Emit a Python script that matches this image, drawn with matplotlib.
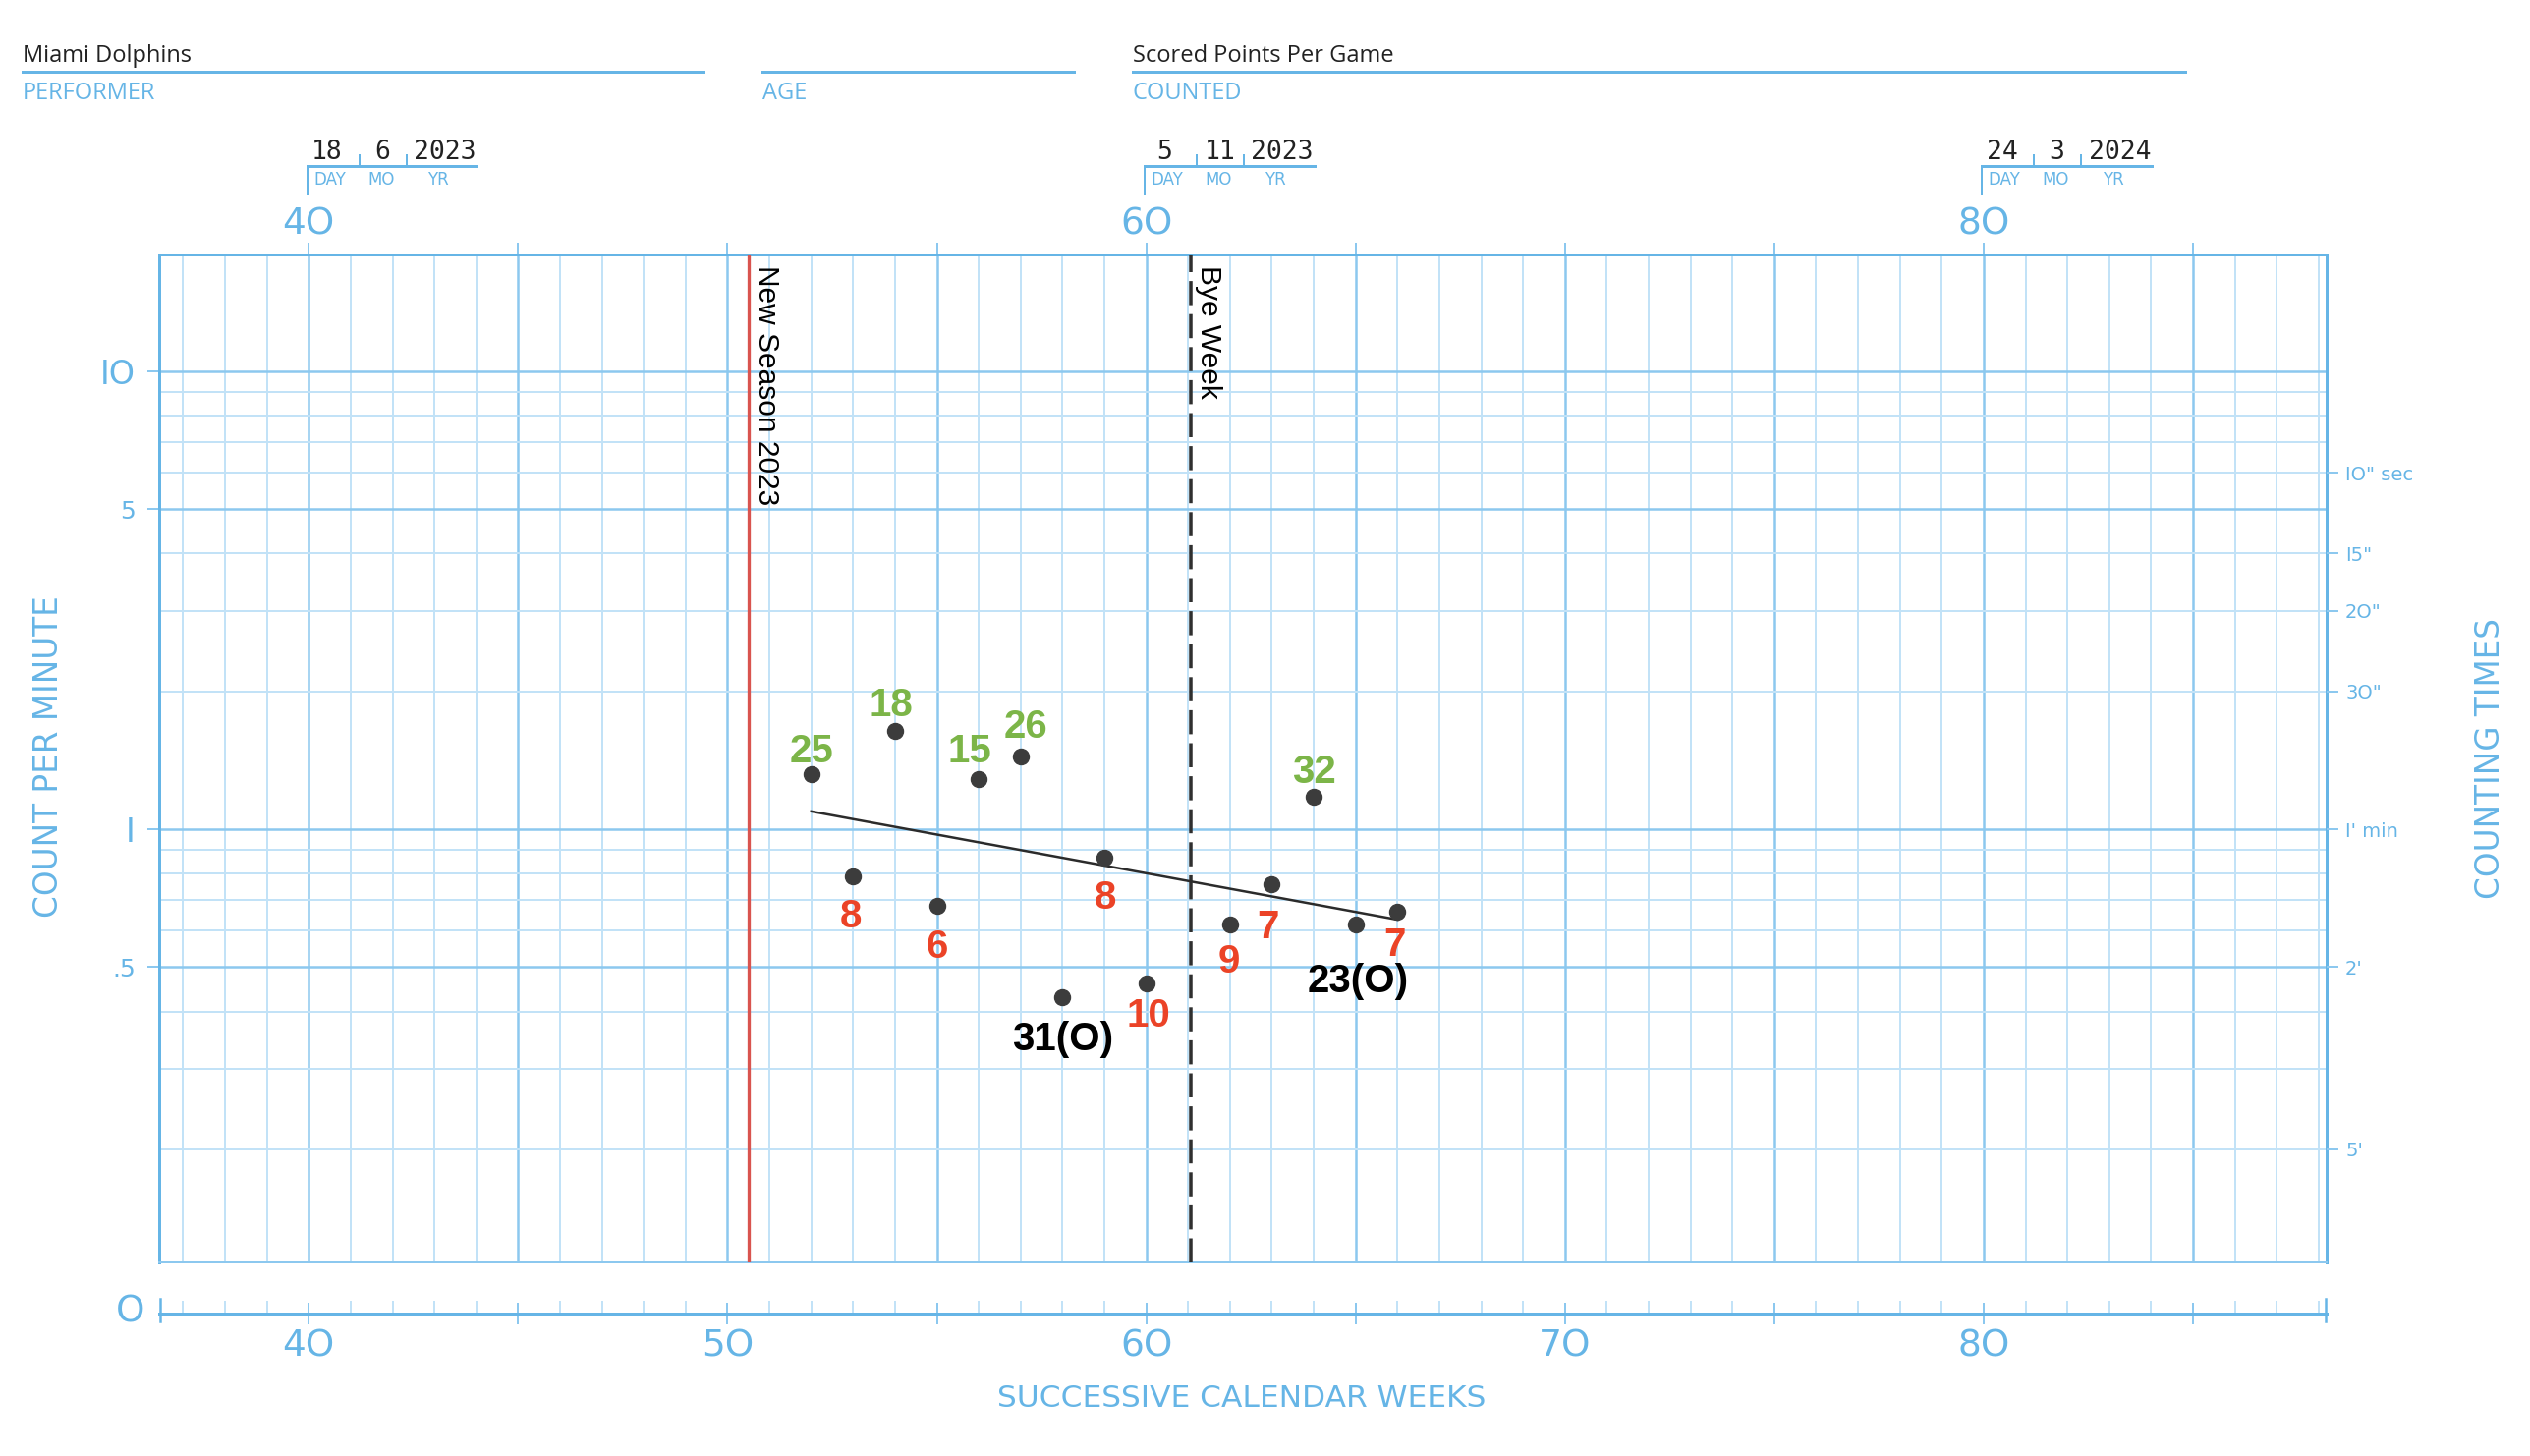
import numpy as np
import matplotlib
matplotlib.use("Agg")
import matplotlib.pyplot as plt
from matplotlib.ticker import MultipleLocator, FuncFormatter, NullLocator, LogLocator
from matplotlib.lines import Line2D
from matplotlib.transforms import IdentityTransform

W, H, DPI = 2575, 1482, 100

# --- data ---
weeks = [52, 53, 54, 55, 56, 57, 58, 59, 60, 62, 63, 64, 65, 66]
rates = [1.32, 0.79, 1.64, 0.68, 1.29, 1.44, 0.43, 0.865, 0.46, 0.62, 0.76, 1.18, 0.62, 0.66]
point_labels = ["25", "8", "18", "6", "15", "26", "31(O)", "8", "10", "9", "7", "32", "23(O)", "7"]
label_groups = ["up", "down", "up", "down", "up", "up", "opp", "down", "down", "down", "down", "up", "opp", "down"]

season_start = 50.5
bye_week = 61.07
date_weeks = [40, 60, 80]
dates = [("18", "6", "2023"), ("5", "11", "2023"), ("24", "3", "2024")]
x_range = (36.42, 88.19)
y_range = (0.1132, 17.95)
left_ticks = [10, 5, 1, 0.5]
left_tick_labels = ["IO", "5", "I", ".5"]
right_ticks = [6, 4, 3, 2, 1, 0.5, 0.2]
right_tick_labels = ['IO" sec', 'I5"', '2O"', '3O"', "I' min", "2'", "5'"]

# label placement (pixels, label centre relative to point)
label_shift = [(0, -26), (-2, 38), (-4, -29), (0, 38), (-9, -31), (5, -34), (0, 40),
               (1, 37), (2, 29), (-1, 35), (-4, 41), (0, -28), (2, 55), (-3, 30)]

BLUE = "#66b5e6"
MID = "#8cc8ef"
LIGHT = "#c2e2f7"
group_colors = {"up": "#7cb548", "down": "#eb4327", "opp": "#000000"}


def P(px):
    return px * 72.0 / DPI


def fx(x):
    return x / W


def fy(y):
    return 1 - y / H


fig = plt.figure(figsize=(W / DPI, H / DPI), dpi=DPI)
fig.patch.set_facecolor("white")

L, R, T, B = 161.7, 2368, 259.6, 1285
ax = fig.add_axes([fx(L), fy(B), (R - L) / W, (B - T) / H])
ax.set_yscale("log")
ax.set_xlim(x_range)
ax.set_ylim(y_range)

# grid
ax.xaxis.set_major_locator(MultipleLocator(5))
ax.xaxis.set_minor_locator(MultipleLocator(1))
ax.set_yticks(left_ticks, left_tick_labels)
ax.yaxis.set_minor_locator(LogLocator(base=10, subs=range(2, 10)))
ax.grid(which="minor", color=LIGHT, lw=P(2))
ax.grid(which="major", color=MID, lw=P(2.5))
ax.set_axisbelow(True)

ax.tick_params(axis="x", which="both", bottom=False, labelbottom=False)
ax.tick_params(axis="x", which="minor", top=False)
ax.tick_params(axis="x", which="major", top=True, labeltop=True, direction="out",
               length=P(13), width=P(2), color=MID, pad=0, labelsize=27, labelcolor=BLUE)
ax.xaxis.set_major_formatter(FuncFormatter(lambda v, p: f"{int(round(v)) // 10}O" if int(round(v)) % 20 == 0 else ""))

ax.tick_params(axis="y", which="minor", left=False, right=False, length=0)
ax.tick_params(axis="y", which="major", left=True, right=False, direction="out",
               length=P(12), width=P(2), color=MID, pad=P(12), labelcolor=BLUE)
for lbl, s in zip(ax.get_yticklabels(), [24, 18, 24, 18]):
    lbl.set_fontsize(s)

for side, lw in [("left", 3), ("right", 3), ("top", 2), ("bottom", 2)]:
    ax.spines[side].set_color(BLUE if side != "bottom" else MID)
    ax.spines[side].set_linewidth(P(lw))

# right axis: counting times
ax2 = ax.twinx()
ax2.set_yscale("log")
ax2.set_ylim(y_range)
ax2.set_yticks(right_ticks, right_tick_labels)
ax2.yaxis.set_minor_locator(NullLocator())
ax2.tick_params(axis="y", which="minor", left=False, right=False, length=0)
ax2.tick_params(axis="y", which="major", direction="out", length=P(12), width=P(2),
                color=MID, pad=P(7), labelsize=14, labelcolor=BLUE)
for s in ax2.spines.values():
    s.set_visible(False)

# phase lines
ax.axvline(season_start, color="#d9544f", lw=P(3.3), zorder=3)
ax.axvline(bye_week, color="#2f2f2f", lw=P(3.5), ls=(0, (7, 2.6)), zorder=3)
for xline, txt in [(season_start, "New Season 2023"), (bye_week, "Bye Week")]:
    ax.annotate(txt, xy=(xline, 1), xycoords=("data", "axes fraction"),
                xytext=(P(4), -P(10)), textcoords="offset points", rotation=-90,
                ha="left", va="top", fontsize=21.5, family="Liberation Sans", color="black")

# data + celeration line
ax.plot(weeks, rates, "o", ms=P(16), color="#3c3c3c", zorder=6)
coef = np.polyfit(weeks, np.log10(rates), 1)
xs = np.array([min(weeks), max(weeks)])
ax.plot(xs, 10 ** np.polyval(coef, xs), color="#2b2b2b", lw=P(2.5), zorder=5)

for w, r, t, g, (dx, dy) in zip(weeks, rates, point_labels, label_groups, label_shift):
    ax.annotate(t, (w, r), xytext=(P(dx), -P(dy + 14.5)), textcoords="offset points",
                ha="center", va="baseline", fontsize=29, fontweight="bold",
                family="Liberation Sans", color=group_colors[g], zorder=7)

# zero line axis
Z = 1336.7
zax = fig.add_axes([fx(L), fy(Z), (R - L) / W, 0.5 / H])
zax.set_xlim(x_range)
zax.set_yticks([])
zax.patch.set_visible(False)
for side in ("left", "right", "top"):
    zax.spines[side].set_visible(False)
zax.spines["bottom"].set_color(BLUE)
zax.spines["bottom"].set_linewidth(P(3))
zax.xaxis.set_major_locator(MultipleLocator(5))
zax.xaxis.set_minor_locator(MultipleLocator(1))
zax.xaxis.set_major_formatter(FuncFormatter(lambda v, p: f"{int(round(v)) // 10}O" if int(round(v)) % 10 == 0 else ""))
zax.tick_params(axis="x", which="major", direction="inout", length=P(22), width=P(2),
                color=MID, pad=P(5), labelsize=27, labelcolor=BLUE)
zax.tick_params(axis="x", which="minor", direction="in", length=P(13), width=P(2), color=LIGHT)
for xe in (L + 1, R - 1):
    fig.add_artist(Line2D([fx(xe)] * 2, [fy(1321.7), fy(1345)], color=BLUE, lw=P(2.5)))
fig.text(fx(133), fy(1336), "O", ha="center", va="center", fontsize=27, color=BLUE)

# axis titles
fig.text(fx(50), fy(770), "COUNT PER MINUTE", rotation=90, ha="center", va="center",
         fontsize=23.5, color=BLUE)
fig.text(fx(2535), fy(772), "COUNTING TIMES", rotation=90, ha="center", va="center",
         fontsize=23.5, color=BLUE)
fig.text(fx(1264), fy(1424), "SUCCESSIVE CALENDAR WEEKS", ha="center", va="center",
         fontsize=22.5, color=BLUE)

# header fields
header = [("Miami Dolphins", "PERFORMER", 23, 715.6),
          ("", "AGE", 776, 1093),
          ("Scored Points Per Game", "COUNTED", 1153, 2223.5)]
for value, name, x0, x1 in header:
    if value:
        fig.text(fx(x0), fy(63), value, ha="left", va="baseline", fontsize=17,
                 family="Open Sans", color="#222222")
    fig.add_artist(Line2D([fx(x0), fx(x1)], [fy(73.3)] * 2, color=BLUE, lw=P(3)))
    fig.text(fx(x0), fy(101), name, ha="left", va="baseline", fontsize=17,
             family="Open Sans", color=BLUE)

# date blocks above the chart (drawn in pixel coordinates from the week position)
pix = IdentityTransform()
for w, (d, m, y) in zip(date_weeks, dates):
    x0 = ax.transData.transform((w, 1))[0]
    for txt, dx in [(d, 18.7), (m, 74.7), (y, 138.3)]:
        fig.text(x0 + dx, H - 161.7, txt, transform=pix, ha="center", va="baseline",
                 fontsize=19, family="DejaVu Sans Mono", color="#222222")
    for txt, dx in [("DAY", 4.7), ("MO", 59.7), ("YR", 120.7)]:
        fig.text(x0 + dx, H - 187.7, txt, transform=pix, ha="left", va="baseline",
                 fontsize=12, color=BLUE)
    fig.add_artist(Line2D([x0 - 1.7, x0 + 171], [H - 168.7] * 2, transform=pix, color=BLUE, lw=P(3)))
    fig.add_artist(Line2D([x0 - 1.7] * 2, [H - 168.7, H - 196.7], transform=pix, color=BLUE, lw=P(2)))
    for dx in (51.4, 99.5):
        fig.add_artist(Line2D([x0 + dx] * 2, [H - 158, H - 168.7], transform=pix, color=BLUE, lw=P(2)))

fig.savefig("out.png", dpi=DPI, facecolor="white")
